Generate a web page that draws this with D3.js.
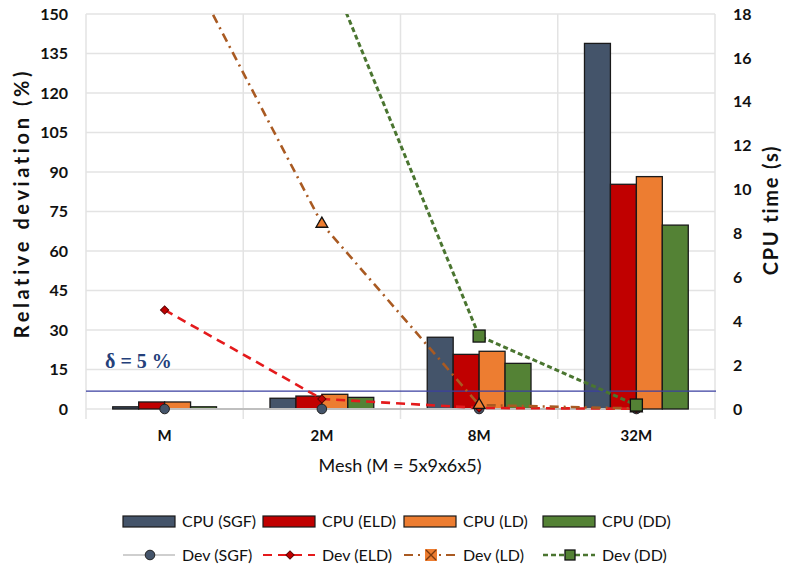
<!DOCTYPE html>
<html><head><meta charset="utf-8">
<script src="https://cdn.jsdelivr.net/npm/d3@7"></script>
<style>body{margin:0;background:#fff}svg{display:block}</style>
</head><body>
<svg id="chart" width="787" height="568"></svg>
<script>
// ---- data ----
const categories = ["M", "2M", "8M", "32M"];
const cpuSeries = ["CPU (SGF)", "CPU (ELD)", "CPU (LD)", "CPU (DD)"];
const cpuSGF = [0.10, 0.49, 3.27, 16.66];
const cpuELD = [0.32, 0.59, 2.49, 10.24];
const cpuLD  = [0.32, 0.67, 2.63, 10.59];
const cpuDD  = [0.10, 0.53, 2.08, 8.38];
const devSeries = ["Dev (SGF)", "Dev (ELD)", "Dev (LD)", "Dev (DD)"];
const devSGF = [0, 0, 0, 0];
const devELD = [37.6, 3.8, 0.4, 0.1];
const devLD  = [185, 70.3, 1.5, 0.2];
const devDD  = [null, 173, 27.7, 1.5];
const leftTicks = d3.range(0, 151, 15);
const rightTicks = d3.range(0, 19, 2);
const deltaLevel = 6.8;
const deltaLabel = "δ = 5 %";

const cpuColors = ["#44546A", "#C00000", "#ED7D31", "#548235"];
const devColors = ["#BFBFBF", "#E41A1C", "#A95A22", "#4A7530"];

const svg = d3.select("#chart");
const L = 86, R = 715, T = 14, B = 409;

const x = d3.scaleBand().domain(categories).range([L, R]).paddingInner(0).paddingOuter(0);
const groupW = x.bandwidth() * 0.66;
const xi = d3.scaleBand().domain(cpuSeries).range([(x.bandwidth() - groupW) / 2, (x.bandwidth() + groupW) / 2]);
const yL = d3.scaleLinear().domain([0, 150]).range([B, T]);
const yR = d3.scaleLinear().domain([0, 18]).range([B, T]);

// gridlines
const grid = svg.append("g");
grid.selectAll("line.h").data(leftTicks).join("line")
  .attr("x1", L).attr("x2", R).attr("y1", d => yL(d)).attr("y2", d => yL(d))
  .attr("stroke", "#E3E3E3").attr("stroke-width", 1.5);
const bounds = categories.map(c => x(c)).concat([R]);
grid.selectAll("line.v").data(bounds).join("line")
  .attr("x1", d => d).attr("x2", d => d).attr("y1", T).attr("y2", B + 10)
  .attr("stroke", "#E3E3E3").attr("stroke-width", 1.5);

// axes
const fontTick = "Lato, 'Liberation Sans', sans-serif";
const axL = svg.append("g").attr("transform", `translate(${L},0)`)
  .call(d3.axisLeft(yL).tickValues(leftTicks).tickSize(0).tickPadding(18));
const axR = svg.append("g").attr("transform", `translate(${R},0)`)
  .call(d3.axisRight(yR).tickValues(rightTicks).tickSize(0).tickPadding(18));
const axB = svg.append("g").attr("transform", `translate(0,${B})`)
  .call(d3.axisBottom(x).tickSize(0).tickPadding(21));
[axL, axR, axB].forEach(a => {
  a.select(".domain").remove();
  a.selectAll("text").attr("font-family", fontTick).attr("font-weight", 700)
    .attr("font-size", 16).attr("fill", "#111");
});
axB.selectAll("text").attr("font-size", 15);

// bars
const cpuData = [cpuSGF, cpuELD, cpuLD, cpuDD];
const barG = svg.append("g");
categories.forEach((c, ci) => {
  cpuSeries.forEach((s, si) => {
    const v = cpuData[si][ci];
    barG.append("rect")
      .attr("x", x(c) + xi(s)).attr("width", xi.bandwidth())
      .attr("y", yR(v)).attr("height", yR(0) - yR(v))
      .attr("fill", cpuColors[si]).attr("stroke", "#1a1a1a").attr("stroke-width", 1.3);
  });
});

// delta line
svg.append("line").attr("x1", L).attr("x2", R + 1).attr("y1", yL(deltaLevel)).attr("y2", yL(deltaLevel))
  .attr("stroke", "#3A3FA0").attr("stroke-width", 1.3);
svg.append("text").attr("x", 105).attr("y", 368).text(deltaLabel)
  .attr("font-family", "'Liberation Serif', 'Times New Roman', serif").attr("font-weight", 700)
  .attr("font-size", 20).attr("fill", "#24407A");

// clip
svg.append("clipPath").attr("id", "clip").append("rect")
  .attr("x", L).attr("y", T).attr("width", R - L).attr("height", B - T + 6);

const devData = [devSGF, devELD, devLD, devDD];
const dashes = [null, "9,6", "9,5,2,5", "5,3"];
const widths = [2, 2.6, 2.6, 3];
const cx = c => x(c) + x.bandwidth() / 2;
const lineG = svg.append("g").attr("clip-path", "url(#clip)");
devData.forEach((arr, si) => {
  const pts = categories.map((c, i) => ({c, v: arr[i]}));
  const line = d3.line().defined(d => d.v != null).x(d => cx(d.c)).y(d => yL(d.v));
  lineG.append("path").datum(pts).attr("d", line).attr("fill", "none")
    .attr("stroke", devColors[si]).attr("stroke-width", widths[si])
    .attr("stroke-dasharray", dashes[si]);
});

function marker(g, type, px, py, legend) {
  if (type === 0) {
    g.append("circle").attr("cx", px).attr("cy", py).attr("r", 4.8)
      .attr("fill", "#44546A").attr("stroke", "#222").attr("stroke-width", 1);
  } else if (type === 1) {
    g.append("path").attr("transform", `translate(${px},${py}) rotate(45)`)
      .attr("d", d3.symbol(d3.symbolSquare, 34)()).attr("fill", "#C00000")
      .attr("stroke", "#5a0000").attr("stroke-width", 1);
  } else if (type === 2) {
    if (legend) {
      g.append("rect").attr("x", px - 6).attr("y", py - 6).attr("width", 12).attr("height", 12)
        .attr("fill", "#ED7D31");
      g.append("path").attr("d", `M${px-5},${py-5}L${px+5},${py+5}M${px+5},${py-5}L${px-5},${py+5}`)
        .attr("stroke", "#7a3a10").attr("stroke-width", 1.4);
    } else {
      g.append("path").attr("transform", `translate(${px},${py})`)
        .attr("d", d3.symbol(d3.symbolTriangle, 60)()).attr("fill", "#ED7D31")
        .attr("stroke", "#111").attr("stroke-width", 1.3);
    }
  } else {
    const s = legend ? 10 : 12;
    g.append("rect").attr("x", px - s / 2).attr("y", py - s / 2).attr("width", s).attr("height", s)
      .attr("fill", "#548235").attr("stroke", "#111").attr("stroke-width", 1.3);
  }
}
const markG = svg.append("g");
devData.forEach((arr, si) => {
  categories.forEach((c, i) => {
    const v = arr[i];
    if (v == null || v > 150) return;
    marker(markG, si, cx(c), yL(v), false);
  });
});

// axis titles
const titleFont = "Lato, 'Liberation Sans', sans-serif";
svg.append("text").attr("transform", "translate(29,203) rotate(-90)").attr("text-anchor", "middle")
  .attr("font-family", titleFont).attr("font-weight", 700).attr("font-size", 20)
  .attr("letter-spacing", 3.6).attr("fill", "#111").text("Relative deviation (%)");
svg.append("text").attr("transform", "translate(778,210) rotate(-90)").attr("text-anchor", "middle")
  .attr("font-family", titleFont).attr("font-weight", 700).attr("font-size", 20)
  .attr("letter-spacing", 1.8).attr("fill", "#111").text("CPU time (s)");
svg.append("text").attr("x", 400).attr("y", 472).attr("text-anchor", "middle")
  .attr("font-family", titleFont).attr("font-size", 18).attr("fill", "#111")
  .text("Mesh (M = 5x9x6x5)");

// legend
const legX = [123, 263, 404, 543];
const legFont = "Lato, 'Liberation Sans', sans-serif";
const leg = svg.append("g");
cpuSeries.forEach((s, i) => {
  leg.append("rect").attr("x", legX[i]).attr("y", 516).attr("width", 52).attr("height", 11)
    .attr("fill", cpuColors[i]).attr("stroke", "#1a1a1a").attr("stroke-width", 1.2);
  leg.append("text").attr("x", legX[i] + 59).attr("y", 527).text(s)
    .attr("font-family", legFont).attr("font-size", 16).attr("fill", "#111");
});
devSeries.forEach((s, i) => {
  const y0 = 555;
  leg.append("line").attr("x1", legX[i]).attr("x2", legX[i] + 52).attr("y1", y0).attr("y2", y0)
    .attr("stroke", devColors[i]).attr("stroke-width", widths[i] - 0.4).attr("stroke-dasharray", dashes[i]);
  marker(leg, i, legX[i] + 27, y0, true);
  leg.append("text").attr("x", legX[i] + 59).attr("y", y0 + 6).text(s)
    .attr("font-family", legFont).attr("font-size", 16).attr("fill", "#111");
});
</script>
</body></html>
